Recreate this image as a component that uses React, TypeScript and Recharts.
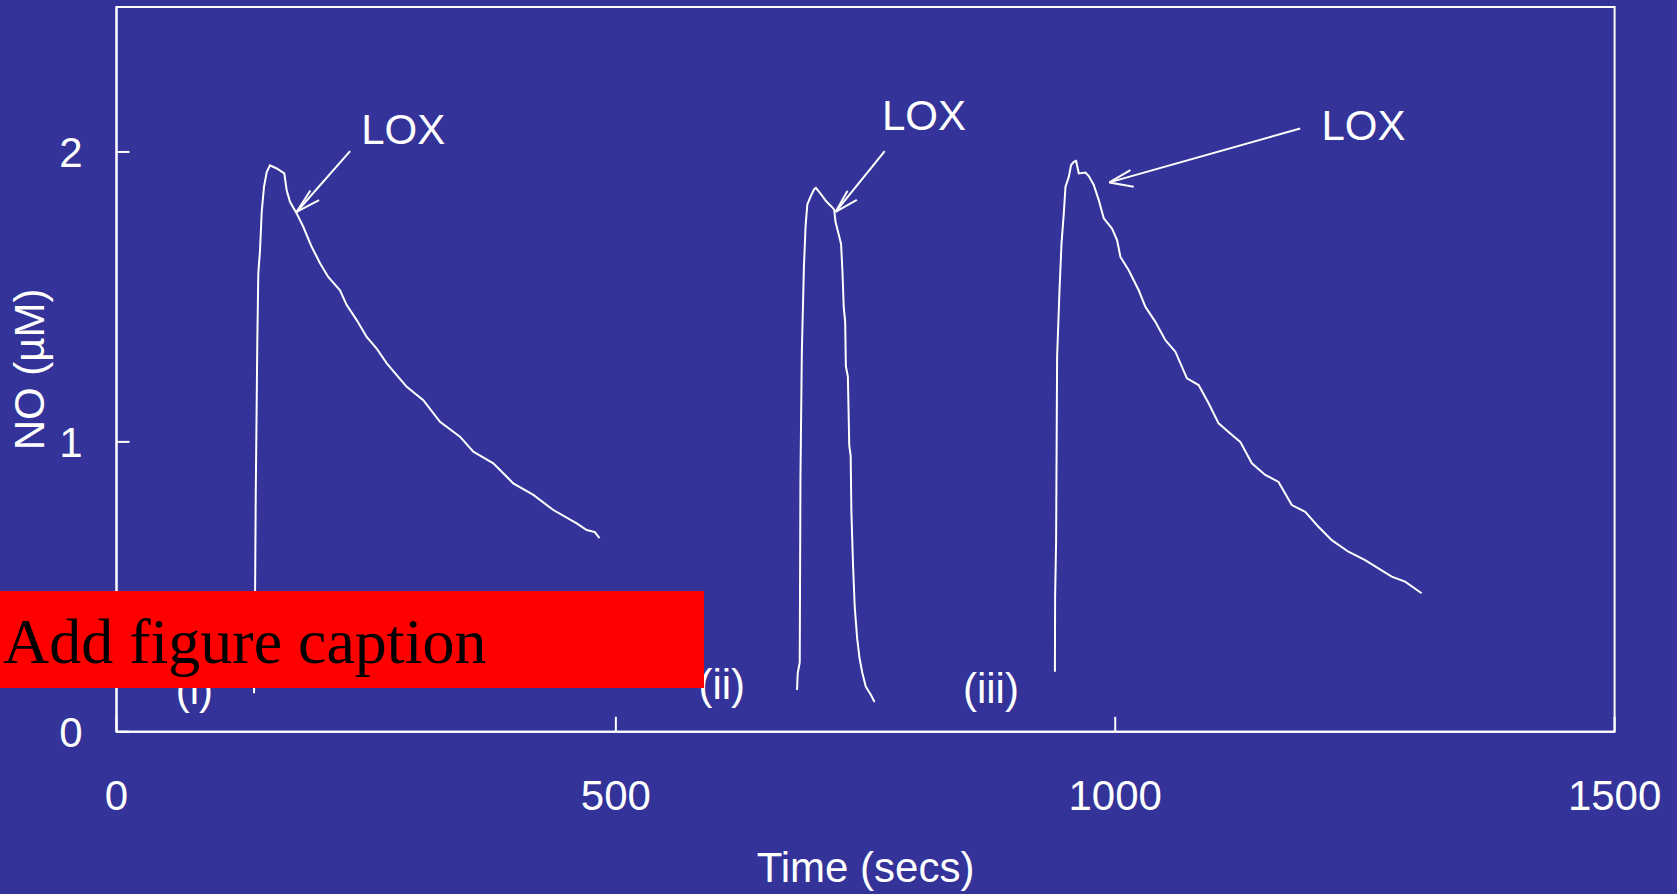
import React from 'react';
import {
  LineChart,
  Line,
  XAxis,
  YAxis,
  ReferenceLine,
  ReferenceArea,
  ReferenceDot,
} from 'recharts';

// ---------- data ----------
const xTicks = [0, 500, 1000, 1500];
const yTicks = [0, 1, 2];

const trace1Time = [137.7, 138.7, 139.4, 141, 142, 143.7, 145.4, 147.7, 150.4, 153.7, 160.4, 168, 170.4, 173.7, 180.4, 187, 195.4, 203.8, 212, 223.8, 230.5, 240.5, 250.5, 260.5, 270.6, 290.6, 307.2, 323.9, 343.9, 357.3, 377.3, 397.3, 417.4, 437.4, 460.8, 470.8, 479, 483.6];
const trace1NO = [0.133, 0.45, 0.811, 1.351, 1.582, 1.661, 1.793, 1.88, 1.931, 1.954, 1.943, 1.926, 1.868, 1.828, 1.788, 1.742, 1.673, 1.616, 1.569, 1.523, 1.472, 1.42, 1.362, 1.322, 1.271, 1.19, 1.144, 1.069, 1.018, 0.966, 0.926, 0.857, 0.817, 0.765, 0.719, 0.696, 0.689, 0.668];

const trace2Time = [681.4, 682.1, 684.1, 684.8, 686.2, 688.3, 690, 691.7, 695.2, 698.6, 700.3, 705.5, 710.6, 715.8, 718.6, 719.9, 723.4, 725.5, 726.8, 728.2, 729.6, 730.3, 732.3, 733.7, 735.1, 735.8, 737.5, 739.2, 741.6, 744.1, 746.8, 750.2, 755.4, 759];
const trace2NO = [0.144, 0.203, 0.239, 0.869, 1.308, 1.605, 1.747, 1.819, 1.848, 1.872, 1.876, 1.854, 1.83, 1.812, 1.801, 1.759, 1.712, 1.682, 1.593, 1.462, 1.415, 1.26, 1.225, 0.987, 0.952, 0.762, 0.572, 0.429, 0.322, 0.251, 0.203, 0.156, 0.127, 0.103];

const trace3Time = [939.6, 939.8, 940.8, 941.8, 944.2, 946.2, 948.5, 950.2, 953.5, 955.8, 958.5, 960.8, 963.5, 970.2, 973.5, 978.5, 983.5, 988.5, 996.8, 1001.8, 1005.2, 1013.5, 1023.5, 1030.2, 1040.2, 1050.2, 1060.2, 1071.8, 1083.5, 1093.5, 1103.5, 1115.2, 1125.2, 1136.8, 1150.2, 1163.5, 1176.8, 1190.2, 1203.5, 1216.8, 1233.5, 1250.2, 1263.5, 1276.8, 1290.2, 1306.8];
const trace3NO = [0.207, 0.466, 0.661, 1.293, 1.523, 1.684, 1.788, 1.88, 1.914, 1.955, 1.966, 1.969, 1.926, 1.929, 1.917, 1.886, 1.834, 1.771, 1.736, 1.696, 1.638, 1.592, 1.523, 1.466, 1.414, 1.351, 1.311, 1.219, 1.196, 1.133, 1.064, 1.029, 1.0, 0.926, 0.886, 0.862, 0.782, 0.759, 0.707, 0.661, 0.621, 0.592, 0.564, 0.535, 0.518, 0.478];

// annotation arrows: [tailT, tailV, tipT, tipV, barb1T, barb1V, barb2T, barb2V]
const arrowTail = [[233.9, 2.003], [769.2, 2.003], [1185.2, 2.081]];
const arrowTip = [[180.3, 1.793], [720, 1.793], [994.1, 1.895]];
const arrowBarbA = [[194.1, 1.867], [732, 1.866], [1015.2, 1.937]];
const arrowBarbB = [[202.8, 1.834], [741.3, 1.835], [1018.5, 1.88]];
const loxLabelPos = [[245, 2.029], [766.5, 2.075], [1206.5, 2.041]];

const runLabels = ['(i)', '(ii)', '(iii)'];
const runLabelPos = [[78, 0.096], [606, 0.113], [875.5, 0.099]];

// ---------- styling ----------
const W = 1677;
const H = 894;
const BG = '#333399';
const FG = '#ffffff';
const FONT = '"Liberation Sans", Arial, Helvetica, sans-serif';
const FS = 42;

const toPoints = (ts: number[], vs: number[]) => ts.map((t, i) => ({ t, v: vs[i] }));
const series = [toPoints(trace1Time, trace1NO), toPoints(trace2Time, trace2NO), toPoints(trace3Time, trace3NO)];

const XTick = (props: any) => (
  <text x={props.x} y={props.y + 30} textAnchor="middle" fill={FG} fontSize={FS} fontFamily={FONT}>
    {props.payload.value}
  </text>
);

const YTick = (props: any) => (
  <text x={props.x} y={props.y + 15} textAnchor="end" fill={FG} fontSize={FS} fontFamily={FONT}>
    {props.payload.value}
  </text>
);

const XLabel = (props: any) => {
  const vb = props.viewBox || { x: 116.5, y: 731.8, width: 1498, height: 100 };
  return (
    <text x={vb.x + vb.width / 2} y={vb.y + 150} textAnchor="middle" fill={FG} fontSize={FS} fontFamily={FONT}>
      Time (secs)
    </text>
  );
};

const YLabel = (props: any) => {
  const vb = props.viewBox || { x: 16.5, y: 7, width: 100, height: 724.8 };
  const cx = vb.x + 28;
  const cy = vb.y + vb.height / 2;
  return (
    <text
      x={cx}
      y={cy}
      transform={`rotate(-90, ${cx}, ${cy})`}
      textAnchor="middle"
      fill={FG}
      fontSize={FS}
      fontFamily={FONT}
    >
      NO (µM)
    </text>
  );
};

const textShape = (label: string, anchor: string) => (p: any) => (
  <text x={p.cx} y={p.cy} textAnchor={anchor as any} fill={FG} fontSize={FS} fontFamily={FONT}>
    {label}
  </text>
);

export default function App() {
  return (
    <div
      style={{
        position: 'absolute',
        left: 0,
        top: 0,
        width: W,
        height: H,
        background: BG,
        overflow: 'hidden',
      }}
    >
      <LineChart width={W} height={H} margin={{ top: 7, right: 62.4, bottom: 62.2, left: 16.5 }}>
        <XAxis
          dataKey="t"
          type="number"
          domain={[0, 1500]}
          ticks={xTicks}
          height={100}
          axisLine={{ stroke: FG, strokeWidth: 2 }}
          tickLine={{ stroke: FG, strokeWidth: 2 }}
          tickSize={-15}
          tickMargin={63.4}
          tick={<XTick />}
          allowDataOverflow
          label={<XLabel />}
        />
        <YAxis
          dataKey="v"
          type="number"
          domain={[0, 2.5]}
          ticks={yTicks}
          width={100}
          axisLine={{ stroke: FG, strokeWidth: 2 }}
          tickLine={{ stroke: FG, strokeWidth: 2 }}
          tickSize={-13}
          tickMargin={47}
          tick={<YTick />}
          allowDataOverflow
          label={<YLabel />}
        />
        <ReferenceArea x1={0} x2={1500} y1={0} y2={2.5} fill="none" fillOpacity={0} stroke={FG} strokeWidth={2} />
        {series.map((d, i) => (
          <Line
            key={i}
            data={d}
            dataKey="v"
            type="linear"
            stroke={FG}
            strokeWidth={2}
            dot={false}
            activeDot={false}
            isAnimationActive={false}
          />
        ))}
        {arrowTail.map((tail, i) => (
          <ReferenceLine
            key={`shaft${i}`}
            segment={[{ x: tail[0], y: tail[1] }, { x: arrowTip[i][0], y: arrowTip[i][1] }]}
            stroke={FG}
            strokeWidth={2}
          />
        ))}
        {arrowBarbA.map((b, i) => (
          <ReferenceLine
            key={`barbA${i}`}
            segment={[{ x: arrowTip[i][0], y: arrowTip[i][1] }, { x: b[0], y: b[1] }]}
            stroke={FG}
            strokeWidth={2}
          />
        ))}
        {arrowBarbB.map((b, i) => (
          <ReferenceLine
            key={`barbB${i}`}
            segment={[{ x: arrowTip[i][0], y: arrowTip[i][1] }, { x: b[0], y: b[1] }]}
            stroke={FG}
            strokeWidth={2}
          />
        ))}
        {loxLabelPos.map((p, i) => (
          <ReferenceDot key={`lox${i}`} x={p[0]} y={p[1]} r={0} shape={textShape('LOX', 'start')} />
        ))}
        {runLabelPos.map((p, i) => (
          <ReferenceDot key={`run${i}`} x={p[0]} y={p[1]} r={0} shape={textShape(runLabels[i], 'middle')} />
        ))}
      </LineChart>
      <svg
        width={704}
        height={97}
        style={{ position: 'absolute', left: 0, top: 591 }}
      >
        <rect x={0} y={0} width={704} height={97} fill="#ff0000" />
        <text x={3} y={71.7} fontSize={64} fill="#000000" fontFamily='"Liberation Serif", "Times New Roman", Times, serif'>
          Add figure caption
        </text>
      </svg>
    </div>
  );
}
